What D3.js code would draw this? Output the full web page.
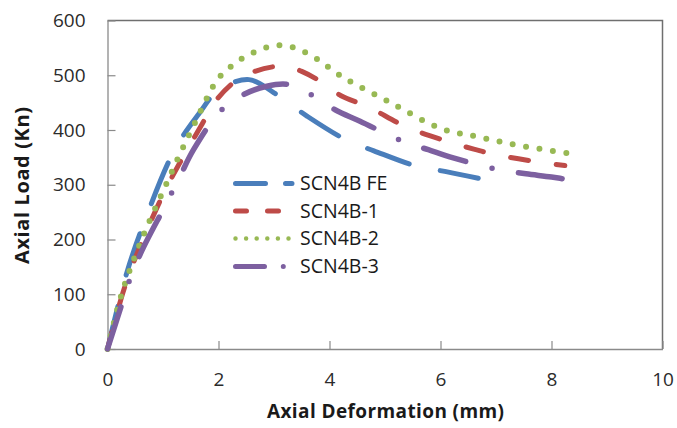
<!DOCTYPE html>
<html>
<head>
<meta charset="utf-8">
<script src="https://cdn.jsdelivr.net/npm/d3@7"></script>
<style>
  html, body { margin: 0; padding: 0; background: #fff; }
  svg { display: block; font-family: "Open Sans", sans-serif; }
</style>
</head>
<body>
<svg id="chart" width="677" height="428"></svg>
<script>
// ---- Data ----
const seriesNames = ["SCN4B FE", "SCN4B-1", "SCN4B-2", "SCN4B-3"];
const xTicks = [0, 2, 4, 6, 8, 10];
const yTicks = [0, 100, 200, 300, 400, 500, 600];

const fe = [[0,0],[0.35,140],[0.65,228],[1.2,362],[1.65,430],[2.0,473],[2.55,492],[3.0,468],[3.6,425],[4.3,382],[4.8,362],[5.6,333],[6.1,324],[6.68,312]];
const b1 = [[0,0],[0.3,110],[0.56,181],[1.04,290],[1.37,352],[1.7,410],[1.94,452],[2.3,489],[2.65,507],[3.2,517],[3.5,507],[3.9,485],[4.2,463],[4.7,442],[5.4,405],[6.1,380],[6.6,365],[7.0,355],[7.8,341],[8.24,335]];
const b2 = [[0,0],[0.26,102],[0.62,201],[1.04,297],[1.3,355],[1.58,414],[1.94,486],[2.1,505],[2.5,535],[3.1,555],[3.6,540],[4.25,496],[5.1,450],[6.0,403],[6.65,388],[7.4,372],[8.35,357]];
const b3 = [[0,0],[0.3,95],[0.44,138],[0.65,186],[1.04,262],[1.3,314],[1.55,364],[2.03,434],[2.42,463],[2.87,480],[3.26,483],[3.68,464],[4.1,437],[4.55,416],[5.33,379],[5.78,364],[6.23,349],[7.07,327],[7.54,320],[8.0,314],[8.39,308]];
const seriesValues = [fe, b1, b2, b3];

// ---- Styles ----
const colors = ["#4A7EBB", "#BE4B48", "#98B954", "#7D60A0"];
const widths = [5, 5, 6, 5.5];
const dashes = ["44,32", "18,28", "0,13.5", "44,27,0,27"];
const legendDashes = ["30,20", "11,21", "0,10.6", "29,18.8,0,30"];
const legendWidths = [5, 5, 4.5, 5];

const svg = d3.select("#chart");
const x = d3.scaleLinear().domain([0, 10]).range([107.5, 662.5]);
const y = d3.scaleLinear().domain([0, 600]).range([349, 20.5]);

// plot area border (top and right)
svg.append("path")
  .attr("d", `M${x(0)},${y(600)}H${x(10)}V${y(0)}`)
  .attr("fill", "none").attr("stroke", "#6f6f6f").attr("stroke-width", 1.5);

// axes
const yAxis = svg.append("g").attr("transform", `translate(${x(0)},0)`)
  .call(d3.axisLeft(y).tickValues(yTicks).tickSize(-8).tickPadding(22).tickSizeOuter(0));
const xAxis = svg.append("g").attr("transform", `translate(0,${y(0)})`)
  .call(d3.axisBottom(x).tickValues(xTicks).tickSize(-8).tickPadding(37).tickSizeOuter(0));
[xAxis, yAxis].forEach(g => {
  g.select(".domain").attr("stroke", "#8a8a8a").attr("stroke-width", 1.3);
  g.selectAll(".tick line").attr("stroke", "#8a8a8a").attr("stroke-width", 1.2);
  g.selectAll(".tick text").attr("fill", "#2b2b2b").style("font-size", "19px")
    .style("font-family", "'Open Sans', sans-serif");
});
xAxis.selectAll(".tick text").attr("dy", "0");

// axis titles
svg.append("text")
  .attr("x", 385.5).attr("y", 418)
  .attr("text-anchor", "middle")
  .attr("textLength", 237).attr("lengthAdjust", "spacing")
  .style("font-size", "19px").style("font-weight", "bold").attr("fill", "#1a1a1a")
  .text("Axial Deformation (mm)");
svg.append("text")
  .attr("transform", "translate(29,185.5) rotate(-90)")
  .attr("text-anchor", "middle")
  .attr("textLength", 157).attr("lengthAdjust", "spacing")
  .style("font-size", "20px").style("font-weight", "bold").attr("fill", "#1a1a1a")
  .text("Axial Load (Kn)");

// series
const line = d3.line().x(d => x(d[0])).y(d => y(d[1])).curve(d3.curveCatmullRom.alpha(0.5));
seriesValues.forEach((s, i) => {
  svg.append("path")
    .datum(s)
    .attr("d", line)
    .attr("fill", "none")
    .attr("stroke", colors[i])
    .attr("stroke-width", widths[i])
    .attr("stroke-linecap", "round")
    .attr("stroke-linejoin", "round")
    .attr("stroke-dasharray", dashes[i]);
});

// legend
const legendRows = [183.5, 211, 238.5, 266.5];
const legendEnds = [292, 292, 289, 284];
seriesNames.forEach((name, i) => {
  const ly = legendRows[i];
  svg.append("line")
    .attr("x1", 235.5).attr("x2", legendEnds[i])
    .attr("y1", ly).attr("y2", ly)
    .attr("stroke", colors[i])
    .attr("stroke-width", legendWidths[i])
    .attr("stroke-linecap", "round")
    .attr("stroke-dasharray", legendDashes[i]);
  svg.append("text")
    .attr("x", 300).attr("y", ly).attr("dy", "0.35em")
    .style("font-size", "19.5px").attr("fill", "#1a1a1a")
    .text(name);
});
</script>
</body>
</html>
